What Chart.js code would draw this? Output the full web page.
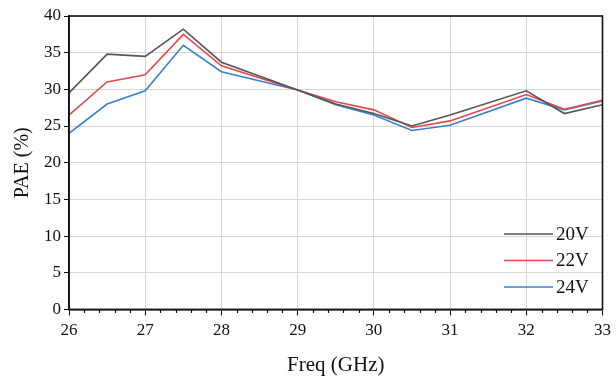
<!DOCTYPE html>
<html>
<head>
<meta charset="utf-8">
<script src="https://cdn.jsdelivr.net/npm/chart.js@4"></script>
<style>
  html, body { margin: 0; padding: 0; background: #fff; }
  #wrap { width: 616px; height: 378px; }
</style>
</head>
<body>
<div id="wrap"><canvas id="chart" width="616" height="378"></canvas></div>
<script>
// Fréquences (GHz) et PAE (%)
const freq = [26, 26.5, 27, 27.5, 28, 29, 29.5, 30, 30.5, 31, 32, 32.5, 33];
const pae20V = [29.5, 34.8, 34.5, 38.2, 33.7, 29.9, 28.0, 26.7, 25.0, 26.5, 29.8, 26.7, 27.9];
const pae22V = [26.5, 31.0, 32.0, 37.5, 33.2, 29.9, 28.3, 27.2, 24.8, 25.7, 29.3, 27.3, 28.5];
const pae24V = [24.0, 28.0, 29.8, 36.0, 32.4, 29.9, 27.9, 26.5, 24.4, 25.1, 28.8, 27.2, 28.4];
const seriesLabels = ['20V', '22V', '24V'];
const seriesColors = ['#555555', '#e5484b', '#3a80d2'];
const xTicks = [26, 27, 28, 29, 30, 31, 32, 33];
const yTicks = [0, 5, 10, 15, 20, 25, 30, 35, 40];

const serif = "'Liberation Serif', 'Times New Roman', serif";

function toPoints(ys) {
    return freq.map((f, i) => ({ x: f, y: ys[i] }));
}

// Cadre, petites graduations et légende dans le graphique
const extras = {
    id: 'extras',
    afterDatasetsDraw(chart) {
        const ctx = chart.ctx;
        const a = chart.chartArea;
        const xs = chart.scales.x;
        ctx.save();
        // petites graduations en x
        ctx.strokeStyle = '#000';
        ctx.lineWidth = 1.2;
        for (let v = 26; v <= 33.001; v += 0.2) {
            if (Math.abs(v - Math.round(v)) < 0.01) continue;
            const px = Math.round(xs.getPixelForValue(v)) + 0.5;
            ctx.beginPath();
            ctx.moveTo(px, a.bottom);
            ctx.lineTo(px, a.bottom + 3.5);
            ctx.stroke();
        }
        // cadre
        ctx.lineWidth = 1.6;
        ctx.strokeStyle = '#111';
        ctx.strokeRect(a.left, a.top, a.right - a.left, a.bottom - a.top);
        // légende
        ctx.font = '19px ' + serif;
        ctx.textBaseline = 'middle';
        ctx.textAlign = 'left';
        chart.data.datasets.forEach((ds, i) => {
            const y = 234 + i * 26.5;
            ctx.strokeStyle = ds.borderColor;
            ctx.lineWidth = 1.6;
            ctx.beginPath();
            ctx.moveTo(504, y);
            ctx.lineTo(553, y);
            ctx.stroke();
            ctx.fillStyle = '#111';
            ctx.fillText(ds.label, 556, y + 1);
        });
        ctx.restore();
    }
};

new Chart(document.getElementById('chart'), {
    type: 'line',
    data: {
        datasets: [pae20V, pae22V, pae24V].map((d, i) => ({
            label: seriesLabels[i],
            data: toPoints(d),
            borderColor: seriesColors[i],
            backgroundColor: seriesColors[i],
            borderWidth: 1.6,
            pointRadius: 0,
            tension: 0
        }))
    },
    options: {
        responsive: false,
        animation: false,
        layout: { padding: { left: 11, right: 11, top: 16, bottom: 0 } },
        plugins: {
            legend: { display: false },
            tooltip: { enabled: false }
        },
        scales: {
            x: {
                type: 'linear',
                min: 26,
                max: 33,
                afterBuildTicks: s => { s.ticks = xTicks.map(v => ({ value: v })); },
                ticks: {
                    color: '#111',
                    font: { family: serif, size: 17 },
                    padding: 5,
                    maxRotation: 0
                },
                grid: {
                    color: '#d4d4d4',
                    lineWidth: 1,
                    tickColor: '#000',
                    tickLength: 6
                },
                border: { color: '#111', width: 1.6 },
                title: {
                    display: true,
                    text: 'Freq (GHz)',
                    color: '#111',
                    font: { family: serif, size: 21 },
                    padding: { top: 7, bottom: 0 }
                }
            },
            y: {
                min: 0,
                max: 40,
                afterBuildTicks: s => { s.ticks = yTicks.map(v => ({ value: v })); },
                ticks: {
                    color: '#111',
                    font: { family: serif, size: 17 },
                    padding: 3
                },
                grid: {
                    color: '#d4d4d4',
                    lineWidth: 1,
                    tickColor: '#000',
                    tickLength: 5
                },
                border: { color: '#111', width: 1.6 },
                title: {
                    display: true,
                    text: 'PAE (%)',
                    color: '#111',
                    font: { family: serif, size: 20 },
                    padding: { top: 0, bottom: 6 }
                }
            }
        }
    },
    plugins: [extras]
});
</script>
</body>
</html>
